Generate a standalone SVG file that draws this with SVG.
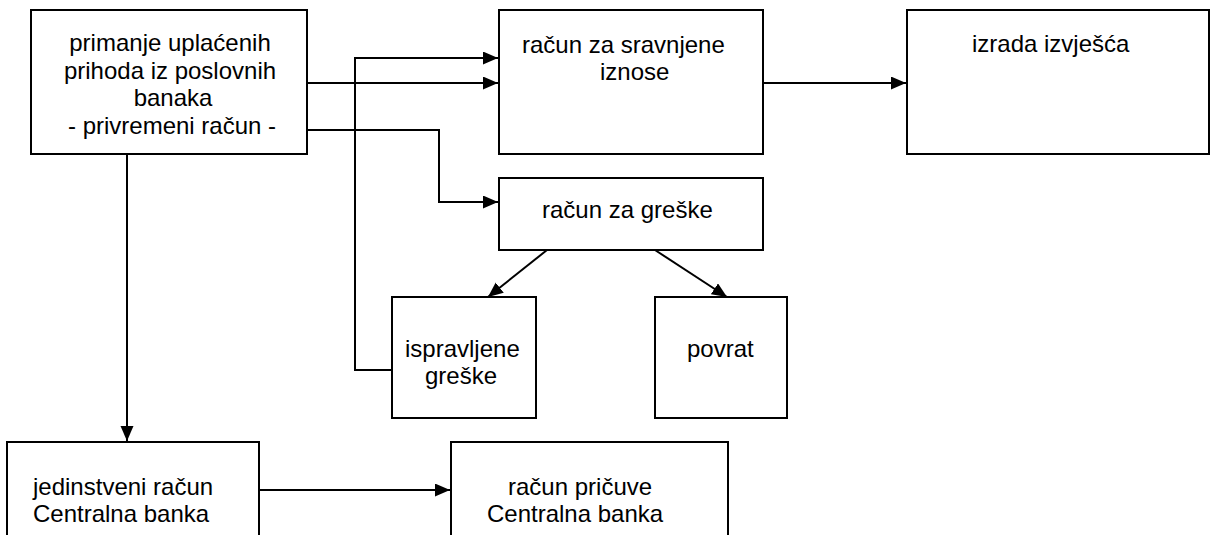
<svg xmlns="http://www.w3.org/2000/svg" width="1211" height="535" viewBox="0 0 1211 535">
<style>
.box{fill:#fff;stroke:#000;stroke-width:2}
.t{font-family:"Liberation Sans",Arial,sans-serif;font-size:24px;fill:#000}
.c{fill:none;stroke:#000;stroke-width:2}
</style>
<defs>
<marker id="ah" markerUnits="userSpaceOnUse" markerWidth="16" markerHeight="14" refX="15" refY="6.5" orient="auto">
<path d="M0,0 L15,6.5 L0,13 Z" fill="#000"/>
</marker>
</defs>
<rect width="1211" height="535" fill="#fff"/>
<g id="connectors">
<path class="c" d="M307,83 H498" marker-end="url(#ah)"/>
<path class="c" d="M307,130 H439 V202 H498" marker-end="url(#ah)"/>
<path class="c" d="M392,370 H355 V58 H498" marker-end="url(#ah)"/>
<path class="c" d="M763,83 H906" marker-end="url(#ah)"/>
<path class="c" d="M547,250 L488,297" marker-end="url(#ah)"/>
<path class="c" d="M655,250 L727,297" marker-end="url(#ah)"/>
<path class="c" d="M127,154 V441" marker-end="url(#ah)"/>
<path class="c" d="M259,490 H450" marker-end="url(#ah)"/>
</g>
<g id="n-primanje">
<rect class="box" x="31" y="10" width="276" height="144"/>
<text class="t" text-anchor="middle"><tspan x="170" y="51">primanje uplaćenih</tspan><tspan x="170" y="78.5">prihoda iz poslovnih</tspan><tspan x="173" y="106">banaka</tspan><tspan x="172" y="133.5">- privremeni račun -</tspan></text>
</g>
<g id="n-sravnjene">
<rect class="box" x="499" y="10" width="264" height="144"/>
<text class="t"><tspan x="522" y="53">račun za sravnjene</tspan><tspan x="600" y="80">iznose</tspan></text>
</g>
<g id="n-izvjesca">
<rect class="box" x="907" y="10" width="302" height="144"/>
<text class="t" x="972" y="52">izrada izvješća</text>
</g>
<g id="n-greske">
<rect class="box" x="499" y="178" width="264" height="72"/>
<text class="t" x="542" y="218">račun za greške</text>
</g>
<g id="n-ispravljene">
<rect class="box" x="392" y="297" width="144" height="121"/>
<text class="t"><tspan x="405" y="357">ispravljene</tspan><tspan x="425" y="384">greške</tspan></text>
</g>
<g id="n-povrat">
<rect class="box" x="655" y="297" width="132" height="121"/>
<text class="t" x="687" y="357">povrat</text>
</g>
<g id="n-jedinstveni">
<rect class="box" x="7" y="442" width="252" height="110"/>
<text class="t"><tspan x="33" y="495">jedinstveni račun</tspan><tspan x="33" y="522">Centralna banka</tspan></text>
</g>
<g id="n-pricuve">
<rect class="box" x="451" y="442" width="277" height="110"/>
<text class="t"><tspan x="508" y="495">račun pričuve</tspan><tspan x="487" y="522">Centralna banka</tspan></text>
</g>
</svg>
